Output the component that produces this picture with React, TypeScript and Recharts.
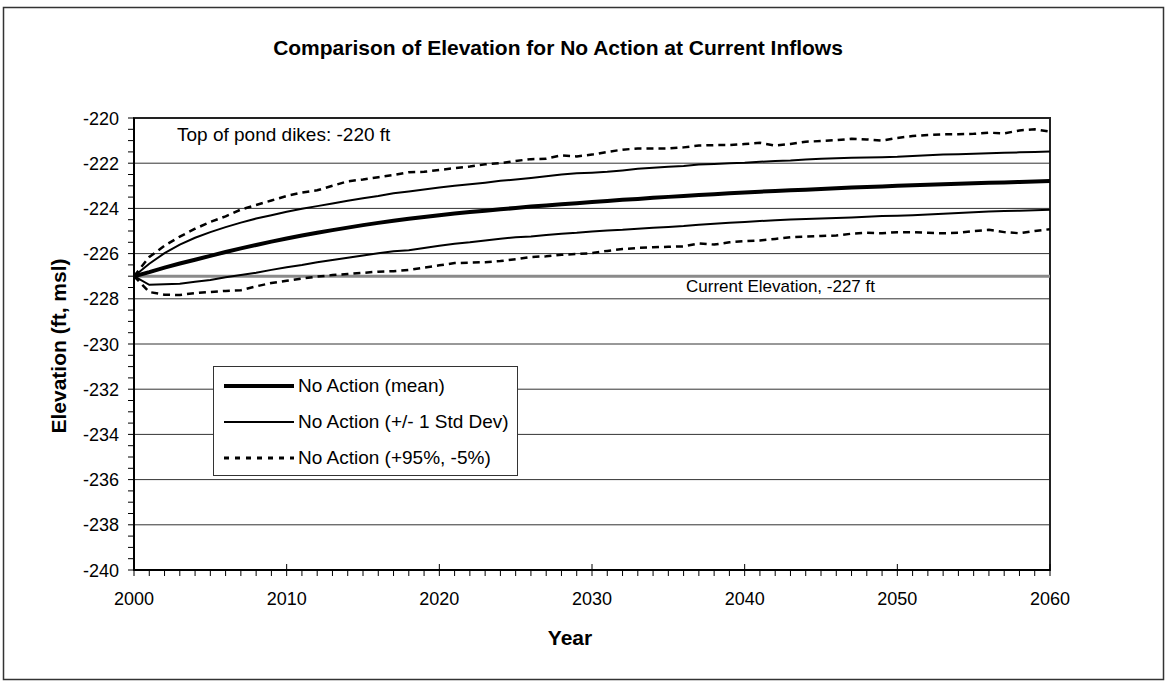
import React from "react";
import {
  LineChart,
  Line,
  XAxis,
  YAxis,
  CartesianGrid,
  ReferenceLine,
  ReferenceArea,
  Legend,
} from "recharts";

// years on the x axis
const years = [
  2000, 2001, 2002, 2003, 2004, 2005, 2006, 2007, 2008, 2009,
  2010, 2011, 2012, 2013, 2014, 2015, 2016, 2017, 2018, 2019,
  2020, 2021, 2022, 2023, 2024, 2025, 2026, 2027, 2028, 2029,
  2030, 2031, 2032, 2033, 2034, 2035, 2036, 2037, 2038, 2039,
  2040, 2041, 2042, 2043, 2044, 2045, 2046, 2047, 2048, 2049,
  2050, 2051, 2052, 2053, 2054, 2055, 2056, 2057, 2058, 2059,
  2060,
];

// No Action (mean)
const meanElev = [
  -227.0, -226.82, -226.62, -226.44, -226.27, -226.1, -225.93, -225.77, -225.62, -225.47,
  -225.33, -225.2, -225.08, -224.96, -224.85, -224.74, -224.64, -224.55, -224.46, -224.38,
  -224.3, -224.23, -224.16, -224.1, -224.04, -223.98, -223.92, -223.87, -223.82, -223.77,
  -223.72, -223.67, -223.62, -223.58, -223.53, -223.49, -223.45, -223.41, -223.37, -223.33,
  -223.3, -223.26, -223.23, -223.2, -223.17, -223.14, -223.11, -223.08, -223.05, -223.03,
  -223.0, -222.98, -222.95, -222.93, -222.91, -222.89, -222.87, -222.85, -222.83, -222.81,
  -222.79,
];

// No Action (+1 Std Dev)
const upperSd = [
  -227.0, -226.45, -225.98, -225.6, -225.3, -225.05, -224.83, -224.63, -224.45, -224.3,
  -224.15, -224.02, -223.9, -223.78, -223.66, -223.55, -223.45, -223.33, -223.25, -223.16,
  -223.08, -223.0, -222.93, -222.86, -222.78, -222.72, -222.65, -222.58, -222.5, -222.45,
  -222.42, -222.38, -222.32, -222.25, -222.2, -222.16, -222.12, -222.06, -222.03, -222.0,
  -221.98, -221.94, -221.9, -221.88, -221.84, -221.8, -221.78, -221.76, -221.75, -221.74,
  -221.72, -221.68, -221.65, -221.62, -221.6, -221.58, -221.56, -221.54, -221.52, -221.5,
  -221.48,
];

// No Action (-1 Std Dev)
const lowerSd = [
  -227.0, -227.38, -227.36, -227.33, -227.25, -227.17, -227.05, -226.95, -226.85, -226.72,
  -226.6, -226.5, -226.38, -226.28, -226.18, -226.08, -225.98, -225.9, -225.85, -225.75,
  -225.65, -225.56, -225.5, -225.42, -225.34, -225.28, -225.24, -225.18, -225.12, -225.08,
  -225.02, -224.98, -224.95, -224.9, -224.86, -224.82, -224.78, -224.72, -224.68, -224.64,
  -224.6, -224.56, -224.52, -224.49, -224.47, -224.45, -224.42, -224.4, -224.37, -224.34,
  -224.32, -224.3, -224.27, -224.24, -224.2, -224.17, -224.14, -224.12, -224.1, -224.08,
  -224.06,
];

// No Action (+95%)
const upper95 = [
  -227.0, -226.15, -225.65, -225.25, -224.9, -224.6, -224.35, -224.05, -223.85, -223.65,
  -223.45, -223.3, -223.2, -223.0, -222.8, -222.72, -222.62, -222.52, -222.4, -222.38,
  -222.3, -222.22, -222.15, -222.05, -222.0, -221.9, -221.82, -221.8, -221.65, -221.7,
  -221.62, -221.5, -221.4, -221.35, -221.35, -221.35, -221.3, -221.22, -221.2, -221.2,
  -221.15, -221.1, -221.22, -221.15, -221.05, -221.02, -220.98, -220.92, -220.95, -221.0,
  -220.88, -220.8, -220.75, -220.72, -220.72, -220.7, -220.65, -220.68, -220.55, -220.5,
  -220.6,
];

// No Action (-5%)
const lower5 = [
  -227.0, -227.7, -227.82, -227.83, -227.75, -227.7, -227.65, -227.62, -227.45, -227.3,
  -227.2, -227.1, -227.02, -226.95, -226.9, -226.85, -226.8, -226.78, -226.72, -226.62,
  -226.52, -226.42, -226.4, -226.38, -226.33, -226.25, -226.15, -226.12, -226.05, -226.02,
  -225.98, -225.88, -225.8, -225.75, -225.72, -225.7, -225.68, -225.55, -225.6, -225.5,
  -225.45, -225.42, -225.35, -225.28, -225.25, -225.22, -225.2, -225.12, -225.08, -225.1,
  -225.05, -225.05, -225.08, -225.1, -225.08, -225.0, -224.95, -225.05, -225.1, -225.0,
  -224.92,
];

const xMajorTicks = [2000, 2010, 2020, 2030, 2040, 2050, 2060];
const yMajorTicks = [-240, -238, -236, -234, -232, -230, -228, -226, -224, -222, -220];
// minor ticks: every year / every half foot
const xAllTicks = years;
const yAllTicks = yMajorTicks
  .slice(0, -1)
  .flatMap((v) => [v, v + 0.5, v + 1, v + 1.5])
  .concat([-220]);

const currentElevation = -227;
const dikeTop = -220;

const legendOrder = [
  "No Action (mean)",
  "No Action (+/- 1 Std Dev)",
  "No Action (+95%, -5%)",
];

const data = years.map((year, i) => ({
  year,
  mean: meanElev[i],
  sdUp: upperSd[i],
  sdDown: lowerSd[i],
  p95: upper95[i],
  p5: lower5[i],
}));

const FONT = "'Liberation Sans', Arial, Helvetica, sans-serif";

const legendStyles: Record<string, { width: number; dash?: string }> = {
  "No Action (mean)": { width: 4 },
  "No Action (+/- 1 Std Dev)": { width: 2 },
  "No Action (+95%, -5%)": { width: 3, dash: "5 6" },
};

// year ticks: every year gets a short outer tick, decades also a label and an inner tick
function YearTick({ x, y, payload }: any) {
  const v = payload.value;
  const major = xMajorTicks.includes(v);
  return (
    <g>
      <line
        x1={x}
        x2={x}
        y1={major ? y - 6 : y}
        y2={y + 6}
        stroke="#000"
        strokeWidth={1}
      />
      {major && (
        <text
          x={x}
          y={y + 35}
          textAnchor="middle"
          fontSize={18}
          fontFamily={FONT}
          fill="#000"
        >
          {v}
        </text>
      )}
    </g>
  );
}

function ElevTick({ x, y, payload }: any) {
  const v = payload.value;
  const major = yMajorTicks.includes(v);
  return (
    <g>
      <line x1={x - 6} x2={x} y1={y} y2={y} stroke="#000" strokeWidth={1} />
      {major && (
        <text
          x={x - 15}
          y={y + 6.5}
          textAnchor="end"
          fontSize={18}
          fontFamily={FONT}
          fill="#000"
        >
          {v}
        </text>
      )}
    </g>
  );
}

function LegendBox({ payload }: any) {
  const items = (payload || [])
    .filter((p: any) => legendOrder.includes(p.value))
    .sort(
      (a: any, b: any) =>
        legendOrder.indexOf(a.value) - legendOrder.indexOf(b.value)
    );
  return (
    <div
      style={{
        width: 305,
        height: 110,
        boxSizing: "border-box",
        border: "1px solid #333",
        background: "#fff",
        fontFamily: FONT,
        fontSize: 19,
        color: "#000",
        paddingTop: 1,
      }}
    >
      {items.map((item: any) => {
        const st = legendStyles[item.value] || { width: 2 };
        return (
          <div
            key={item.value}
            style={{ display: "flex", alignItems: "center", height: 36 }}
          >
            <svg width={84} height={12} style={{ flex: "none" }}>
              <line
                x1={10}
                x2={80}
                y1={6}
                y2={6}
                stroke="#000"
                strokeWidth={st.width}
                strokeDasharray={st.dash}
              />
            </svg>
            <span style={{ whiteSpace: "nowrap" }}>{item.value}</span>
          </div>
        );
      })}
    </div>
  );
}

export default function App() {
  return (
    <div
      style={{
        position: "absolute",
        left: 0,
        top: 0,
        width: 1170,
        height: 687,
        background: "#fff",
        fontFamily: FONT,
      }}
    >
      <LineChart
        width={1170}
        height={687}
        data={data}
        margin={{ top: 118, right: 120, bottom: 0, left: 0 }}
      >
        <CartesianGrid
          vertical={false}
          horizontalValues={yMajorTicks}
          stroke="#333"
          strokeWidth={1}
        />
        <ReferenceArea
          x1={2000}
          x2={2060}
          y1={-240}
          y2={-220}
          fill="none"
          stroke="#222"
          strokeWidth={2}
        />
        <XAxis
          dataKey="year"
          type="number"
          domain={[2000, 2060]}
          ticks={xAllTicks}
          height={117}
          interval={0}
          tickSize={0}
          tickMargin={0}
          axisLine={{ stroke: "#000", strokeWidth: 2 }}
          tickLine={false}
          tick={<YearTick />}
          allowDataOverflow
        />
        <YAxis
          type="number"
          domain={[-240, -220]}
          ticks={yAllTicks}
          width={134}
          interval={0}
          tickSize={0}
          tickMargin={0}
          axisLine={{ stroke: "#000", strokeWidth: 2 }}
          tickLine={false}
          tick={<ElevTick />}
          allowDataOverflow
        />
        <ReferenceLine
          y={currentElevation}
          stroke="#8a8a8a"
          strokeWidth={3}
          label={(props: any) => (
            <text
              x={props.viewBox.x + 552}
              y={props.viewBox.y + 16}
              fontSize={17}
              fontFamily={FONT}
              fill="#000"
            >
              Current Elevation, -227 ft
            </text>
          )}
        />
        <ReferenceLine
          y={dikeTop}
          stroke="none"
          label={(props: any) => (
            <text
              x={props.viewBox.x + 43}
              y={props.viewBox.y + 23}
              fontSize={19}
              fontFamily={FONT}
              fill="#000"
            >
              Top of pond dikes: -220 ft
            </text>
          )}
        />
        <Line
          dataKey="p5"
          name="No Action (+95%, -5%) low"
          legendType="none"
          type="linear"
          stroke="#000"
          strokeWidth={2.5}
          strokeDasharray="7 5"
          dot={false}
          activeDot={false}
          isAnimationActive={false}
        />
        <Line
          dataKey="sdDown"
          name="No Action (+/- 1 Std Dev) low"
          legendType="none"
          type="linear"
          stroke="#000"
          strokeWidth={2}
          dot={false}
          activeDot={false}
          isAnimationActive={false}
        />
        <Line
          dataKey="mean"
          name="No Action (mean)"
          type="linear"
          stroke="#000"
          strokeWidth={4}
          dot={false}
          activeDot={false}
          isAnimationActive={false}
        />
        <Line
          dataKey="sdUp"
          name="No Action (+/- 1 Std Dev)"
          type="linear"
          stroke="#000"
          strokeWidth={2}
          dot={false}
          activeDot={false}
          isAnimationActive={false}
        />
        <Line
          dataKey="p95"
          name="No Action (+95%, -5%)"
          type="linear"
          stroke="#000"
          strokeWidth={2.5}
          strokeDasharray="7 5"
          dot={false}
          activeDot={false}
          isAnimationActive={false}
        />
        <Legend
          layout="vertical"
          align="center"
          verticalAlign="middle"
          content={<LegendBox />}
          wrapperStyle={{ left: 213, top: 366, width: 305, height: 110 }}
        />
      </LineChart>

      {/* title, axis titles and the outer frame */}
      <svg
        width={1170}
        height={687}
        style={{ position: "absolute", left: 0, top: 0, pointerEvents: "none" }}
      >
        <rect
          x={3.5}
          y={7.5}
          width={1160}
          height={672}
          fill="none"
          stroke="#333"
          strokeWidth={1.5}
        />
        <text
          x={558}
          y={55}
          textAnchor="middle"
          fontSize={21}
          fontWeight="bold"
          fontFamily={FONT}
          fill="#000"
        >
          Comparison of Elevation for No Action at Current Inflows
        </text>
        <text
          x={66}
          y={346}
          transform="rotate(-90, 66, 346)"
          textAnchor="middle"
          fontSize={21}
          fontWeight="bold"
          fontFamily={FONT}
          fill="#000"
        >
          Elevation (ft, msl)
        </text>
        <text
          x={570}
          y={645}
          textAnchor="middle"
          fontSize={21}
          fontWeight="bold"
          fontFamily={FONT}
          fill="#000"
        >
          Year
        </text>
      </svg>
    </div>
  );
}
